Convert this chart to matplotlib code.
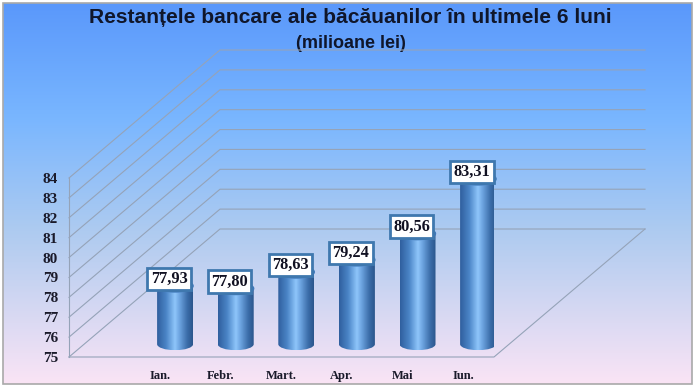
import numpy as np
import matplotlib
matplotlib.use('Agg')
import matplotlib.pyplot as plt
from matplotlib.colors import LinearSegmentedColormap
from matplotlib.patches import Rectangle, PathPatch
from matplotlib.path import Path

months = ['Ian.', 'Febr.', 'Mart.', 'Apr.', 'Mai', 'Iun.']
values = [77.93, 77.80, 78.63, 79.24, 80.56, 83.31]
labels = ['77,93', '77,80', '78,63', '79,24', '80,56', '83,31']
y_ticks = list(range(75, 85))

W, H = 696, 389
fig = plt.figure(figsize=(W / 100, H / 100), dpi=100, facecolor='white')

# background panel with the vertical gradient
bg = fig.add_axes([0, 0, 1, 1])
bg.set_xlim(0, W)
bg.set_ylim(H, 0)
bg.axis('off')
bg_cmap = LinearSegmentedColormap.from_list('bg', [
    (0.0, '#5a98fb'), (0.30, '#79b6ff'), (0.60, '#aecbf0'), (1.0, '#fae4f5')])
grad = np.linspace(0, 1, 256).reshape(-1, 1)
im = bg.imshow(grad, cmap=bg_cmap, extent=[3, 692, 384, 3], aspect='auto', zorder=0)
bg.add_patch(Rectangle((3, 3), 689, 381, fill=False, ec='#a9a9a9', lw=1.2, zorder=1))

# plot axes = front edge of the 3d floor and left wall
x0, x1, y0, y1 = 69, 494, 357, 178
ax = fig.add_axes([x0 / W, 1 - y0 / H, (x1 - x0) / W, (y0 - y1) / H])
ax.patch.set_alpha(0)
step = 60.6
ax.set_xlim((x0 - 160) / step, (x1 - 160) / step)
ax.set_ylim(75, 84)
for s in ax.spines.values():
    s.set_visible(False)

# depth of the 3d box, in data units
dx = 151 / step
dy = 128 / ((y0 - y1) / 9)
xl, xr = ax.get_xlim()
line_kw = dict(color='#95a3b8', lw=0.8, clip_on=False, zorder=1)
for v in y_ticks:
    ax.plot([xl, xl + dx, xr + dx], [v, v + dy, v + dy], **line_kw)
ax.plot([xl, xl], [75, 84], **line_kw)
ax.plot([xl, xr, xr + dx], [75, 75, 75 + dy], **line_kw)

ax.set_xticks(range(len(months)))
ax.set_xticklabels(months, family='Liberation Serif', fontweight='bold', fontsize=9, color='#1a1a2a')
ax.set_yticks(y_ticks)
ax.set_yticklabels(y_ticks, family='Liberation Serif', fontweight='bold', fontsize=11, color='#1a1a2a')
ax.tick_params(axis='both', length=0)
ax.tick_params(axis='y', pad=8)
ax.tick_params(axis='x', pad=9.5)

# cylinders
cyl_cmap = LinearSegmentedColormap.from_list('cyl', [
    (0.0, '#2f5f9e'), (0.25, '#4a84c6'), (0.50, '#8fc6fb'), (0.62, '#6fa6e2'),
    (0.85, '#3a6ca8'), (1.0, '#2b568c')])
depth = 0.1
hw = 18 / step
eh = 6 / ((y0 - y1) / 9)
k = 0.5523
row = np.linspace(0, 1, 128).reshape(1, -1)
for i, v in enumerate(values):
    cx = i + depth * dx
    base = 75 + depth * dy
    top = v + depth * dy
    verts = [(cx - hw, top), (cx - hw, base),
             (cx - hw, base - k * eh), (cx - k * hw, base - eh), (cx, base - eh),
             (cx + k * hw, base - eh), (cx + hw, base - k * eh), (cx + hw, base),
             (cx + hw, top),
             (cx + hw, top - k * eh), (cx + k * hw, top - eh), (cx, top - eh),
             (cx - k * hw, top - eh), (cx - hw, top - k * eh), (cx - hw, top),
             (cx - hw, top)]
    codes = [Path.MOVETO, Path.LINETO] + [Path.CURVE4] * 6 + [Path.LINETO] + [Path.CURVE4] * 6 + [Path.CLOSEPOLY]
    body = PathPatch(Path(verts, codes), fc='none', ec='none', transform=ax.transData)
    ax.add_patch(body)
    img = ax.imshow(row, cmap=cyl_cmap, extent=[cx - hw, cx + hw, base - eh, top],
                    aspect='auto', zorder=3)
    img.set_clip_path(body)
    img.set_clip_on(True)
    t = np.linspace(0, 2 * np.pi, 60)
    ax.fill(cx + hw * np.cos(t), top + eh * np.sin(t), color='#3f78ba', zorder=3.5, clip_on=False)
    ax.annotate(labels[i], (cx, top), xytext=(-6, 7), textcoords='offset pixels',
                ha='center', va='center', family='Liberation Serif', fontweight='bold',
                fontsize=11.8, color='#111122', zorder=5, annotation_clip=False,
                bbox=dict(boxstyle='square,pad=0.2', fc='white', ec='#3f78ae', lw=2))
ax.set_xlim(xl, xr)
ax.set_ylim(75, 84)

bg.text(350, 17, 'Restanțele bancare ale băcăuanilor în ultimele 6 luni', ha='center', va='center',
        family='Liberation Sans', fontweight='bold', fontsize=15.1, color='#10162a')
bg.text(351, 43, '(milioane lei)', ha='center', va='center',
        family='Liberation Sans', fontweight='bold', fontsize=13, color='#10162a')

fig.savefig('out.png', dpi=100)
